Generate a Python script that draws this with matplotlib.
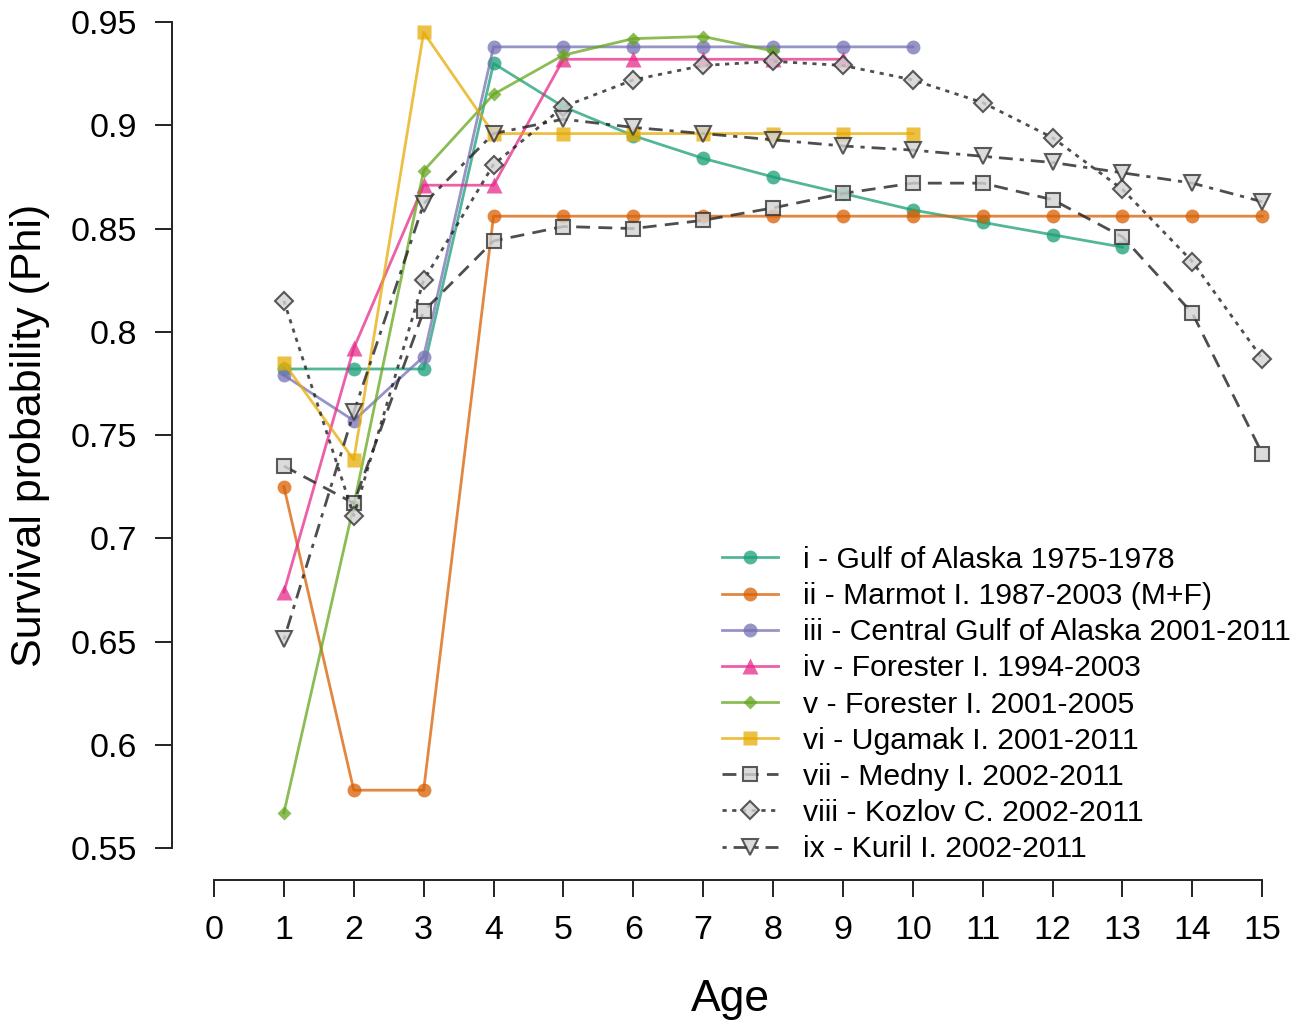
import numpy as np
import matplotlib.pyplot as plt
from matplotlib.lines import Line2D

plt.rcParams["font.family"] = ["Liberation Sans", "DejaVu Sans"]

# Survival probability by age
ages_i = [1, 2, 3, 4, 5, 6, 7, 8, 9, 10, 11, 12, 13]
phi_i = [0.782, 0.782, 0.782, 0.930, 0.909, 0.895, 0.884, 0.875, 0.867, 0.859, 0.853, 0.847, 0.841]

ages_ii = list(range(1, 16))
phi_ii = [0.725, 0.578, 0.578] + [0.856] * 12

ages_iii = list(range(1, 11))
phi_iii = [0.779, 0.757, 0.788, 0.938, 0.938, 0.938, 0.938, 0.938, 0.938, 0.938]

ages_iv = list(range(1, 10))
phi_iv = [0.674, 0.792, 0.871, 0.871, 0.932, 0.932, 0.932, 0.932, 0.932]

ages_v = list(range(1, 9))
phi_v = [0.567, 0.716, 0.878, 0.915, 0.934, 0.942, 0.943, 0.936]

ages_vi = list(range(1, 11))
phi_vi = [0.785, 0.738, 0.945, 0.896, 0.896, 0.896, 0.896, 0.896, 0.896, 0.896]

ages_vii = list(range(1, 16))
phi_vii = [0.735, 0.717, 0.810, 0.844, 0.851, 0.850, 0.854, 0.860, 0.867, 0.872,
           0.872, 0.864, 0.846, 0.809, 0.741]

ages_viii = list(range(1, 16))
phi_viii = [0.815, 0.711, 0.825, 0.881, 0.909, 0.922, 0.929, 0.931, 0.929, 0.922,
            0.911, 0.894, 0.869, 0.834, 0.787]

ages_ix = list(range(1, 16))
phi_ix = [0.651, 0.761, 0.862, 0.896, 0.903, 0.899, 0.896, 0.893, 0.890, 0.888,
          0.885, 0.882, 0.877, 0.872, 0.863]

labels = [
    "i - Gulf of Alaska 1975-1978",
    "ii - Marmot I. 1987-2003 (M+F)",
    "iii - Central Gulf of Alaska 2001-2011",
    "iv - Forester I. 1994-2003",
    "v - Forester I. 2001-2005",
    "vi - Ugamak I. 2001-2011",
    "vii - Medny I. 2002-2011",
    "viii - Kozlov C. 2002-2011",
    "ix - Kuril I. 2002-2011",
]

dark2 = ["#1B9E77", "#D95F02", "#7570B3", "#E7298A", "#66A61E", "#E6AB02"]
colored = [
    (ages_i, phi_i, "o", 10),
    (ages_ii, phi_ii, "o", 10),
    (ages_iii, phi_iii, "o", 10),
    (ages_iv, phi_iv, "^", 11),
    (ages_v, phi_v, "D", 7),
    (ages_vi, phi_vi, "s", 9.5),
]
grey = [
    (ages_vii, phi_vii, "s", 9.5, (5, 3)),
    (ages_viii, phi_viii, "D", 9.5, (1.5, 2)),
    (ages_ix, phi_ix, "v", 11, (1.5, 2.5, 5, 2.5)),
]

fig = plt.figure(figsize=(12.93, 10.23), dpi=100)
ax = fig.add_axes([172 / 1293, 143 / 1023, 1121 / 1293, 880 / 1023])

handles = []
for (x, y, m, ms), c in zip(colored, dark2):
    ax.plot(x, y, color=c, marker=m, ms=ms, lw=2, alpha=0.75,
            mec="none", clip_on=False)
    handles.append(Line2D([], [], color=c, marker=m, ms=ms, lw=2, alpha=0.75, mec="none"))

for x, y, m, ms, dash in grey:
    ax.plot(x, y, color="#222222", lw=2, alpha=0.8, dashes=dash,
            marker=m, ms=ms, mfc="#D3D3D3", mec="#333333", mew=1.5, clip_on=False)
    handles.append(Line2D([], [], color="#222222", lw=2, alpha=0.8, dashes=dash,
                          marker=m, ms=ms, mfc="#D3D3D3", mec="#333333", mew=1.5))

ax.set_xlim(-0.601, 15.44)
ax.set_ylim(0.5345, 0.9607)
ax.spines["top"].set_visible(False)
ax.spines["right"].set_visible(False)
ax.spines["left"].set_bounds(0.55, 0.95)
ax.spines["bottom"].set_bounds(0, 15)
for s in ("left", "bottom"):
    ax.spines[s].set_linewidth(1.4)
    ax.spines[s].set_color("#222222")

ax.set_xticks(range(0, 16))
yt = [0.55, 0.6, 0.65, 0.7, 0.75, 0.8, 0.85, 0.9, 0.95]
ax.set_yticks(yt)
ax.set_yticklabels(["0.55", "0.6", "0.65", "0.7", "0.75", "0.8", "0.85", "0.9", "0.95"])
ax.tick_params(axis="both", direction="out", length=12, width=1.4, color="#222222",
               labelsize=24.5)
ax.tick_params(axis="y", pad=13)
ax.tick_params(axis="x", pad=13)

fig.text(730 / 1293, 1 - 1000 / 1023, "Age", fontsize=32, ha="center", va="center")
fig.text(30 / 1293, 1 - 435 / 1023, "Survival probability (Phi)", fontsize=31,
         rotation=90, ha="center", va="center")

fig.legend(handles, labels, loc="upper left", bbox_to_anchor=(722 / 1293, 1 - 546 / 1023),
           frameon=False, fontsize=21.7, handlelength=1.85, handletextpad=0.85,
           labelspacing=0.27, borderpad=0, borderaxespad=0)

fig.savefig("out.png", dpi=100)
